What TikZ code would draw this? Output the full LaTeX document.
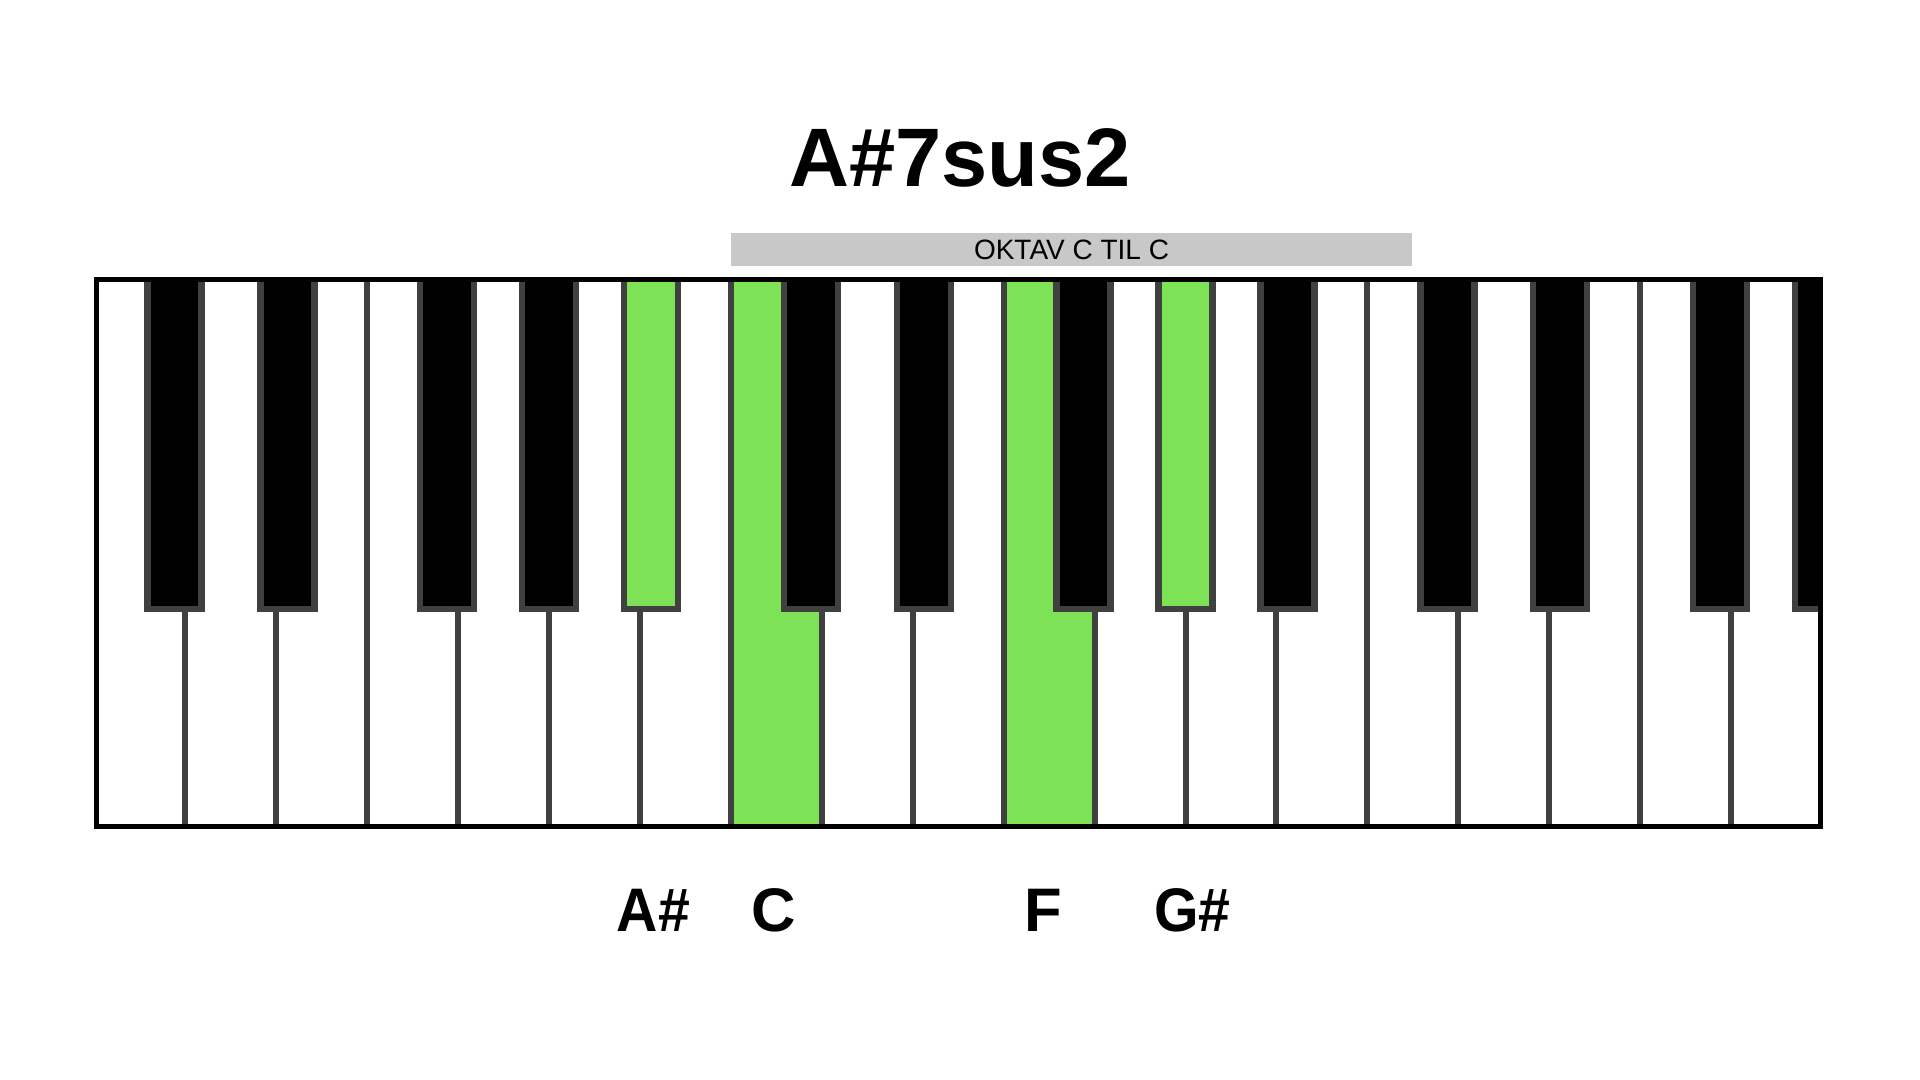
\documentclass[tikz,border=0pt]{standalone}
\usepackage{fontspec}
\usepackage{graphicx}
\setmainfont{Liberation Sans}
\definecolor{keygreen}{RGB}{125,226,85}
\definecolor{keygray}{RGB}{64,64,64}
\definecolor{bargray}{RGB}{200,200,200}
\tikzset{
  divider/.style={draw=keygray, line width=3pt},
  blackkey/.style={fill=black, draw=keygray, line width=3.25pt},
  greenkey/.style={fill=keygreen, draw=keygray, line width=3.25pt},
  notelabel/.style={anchor=base, inner sep=0pt, font=\bfseries\fontsize{30.75}{36}\selectfont},
}
\begin{document}
\begin{tikzpicture}[x=0.5pt, y=-0.5pt]
\useasboundingbox[fill=white] (0,0) rectangle (1920,1080);
% title
\node[anchor=base, inner sep=0pt, font=\bfseries\fontsize{41.5}{50}\selectfont] (title) at (960,187) {A\#7sus2};
% octave bar
\fill[bargray] (731,233) rectangle (1412,266);
\node[anchor=base, inner sep=0pt, font=\fontsize{14}{17}\selectfont] (oktav) at (1071.5,260) {OKTAV C TIL C};
% keyboard
\def\xo{94.5}
\def\kw{90.92}
\fill[white] (\xo,279.5) rectangle (1822,826.5);
% green white keys (C = 8th, F = 11th)
\foreach \k in {7,10}
  \fill[keygreen] ({\xo+\k*\kw},279.5) rectangle ({\xo+(\k+1)*\kw},826.5);
% dividers
\foreach \i in {1,...,18}
  \draw[divider] ({\xo+\i*\kw},279.5) -- ({\xo+\i*\kw},826.5);
% black keys
\begin{scope}
\clip (\xo,279.5) rectangle (1822,826.5);
\foreach \i/\o in {1/-11,2/11,4/-11,5/0,8/-11,9/11,11/-11,13/11,15/-11,16/11,18/-11,19/0}
  \draw[blackkey] ({\xo+\i*\kw+\o-27},272) rectangle ({\xo+\i*\kw+\o+27},609);
\foreach \i/\o in {6/11,12/0}
  \draw[greenkey] ({\xo+\i*\kw+\o-27},272) rectangle ({\xo+\i*\kw+\o+27},609);
\end{scope}
% outer frame
\draw[black, line width=2.5pt] (96.5,279.5) rectangle (1820.5,826.5);
% labels
\node[notelabel] (lAs) at (653.5,931) {\scalebox{0.93}[1]{A\#}};
\node[notelabel] (lC) at (773.5,931) {C};
\node[notelabel] (lF) at (1043.5,931) {F};
\node[notelabel] (lGs) at (1192.5,931) {\scalebox{0.93}[1]{G\#}};
\end{tikzpicture}
\end{document}
